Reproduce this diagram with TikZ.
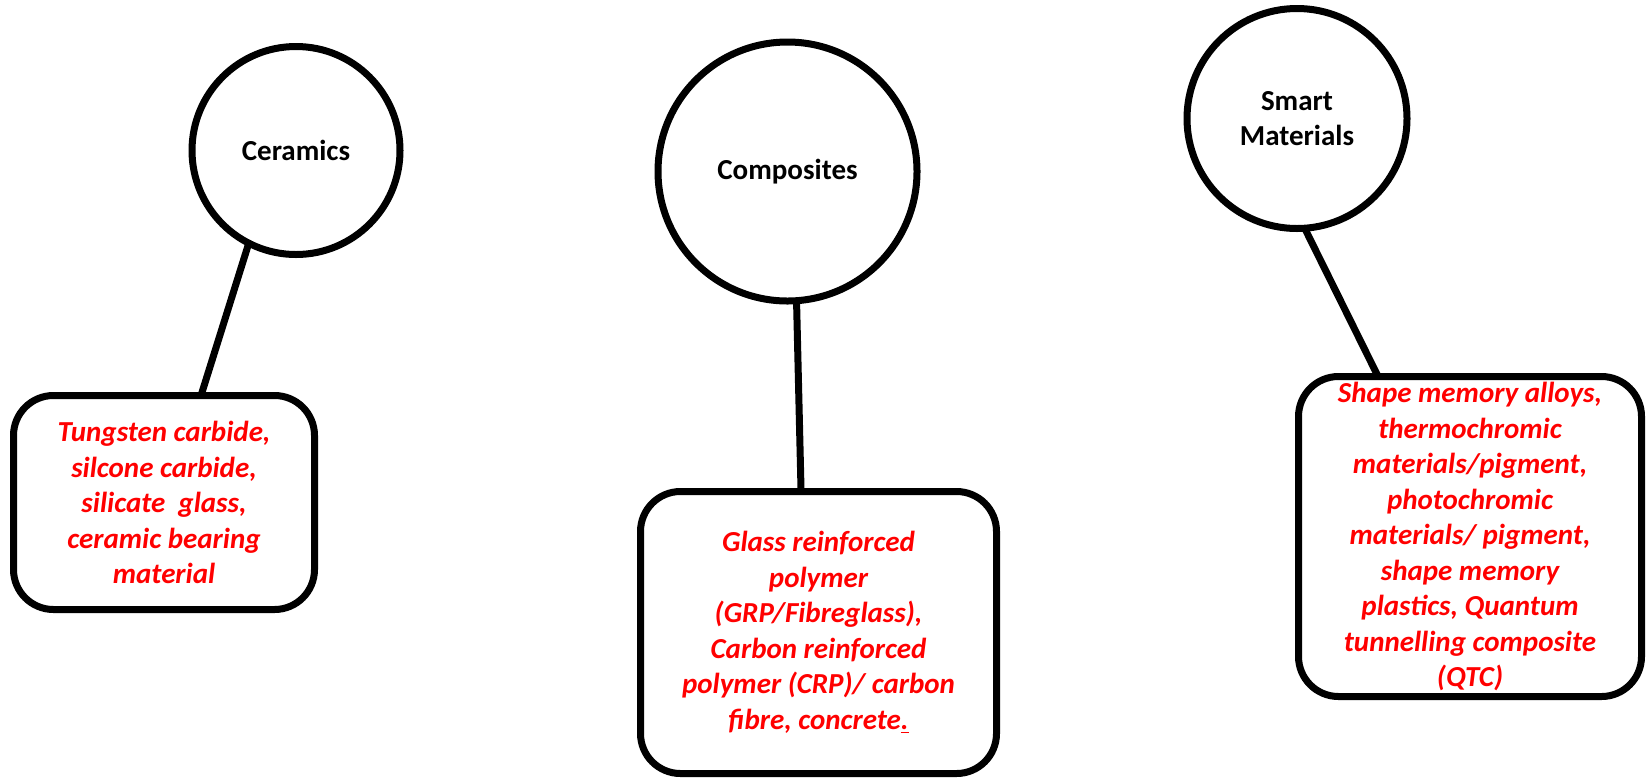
\documentclass[tikz,border=0pt]{standalone}
\usepackage{fontspec}
\setmainfont{Carlito}
\usetikzlibrary{calc}
\begin{document}
\begin{tikzpicture}[x=0.5pt,y=-0.5pt,
  ring/.style={circle,draw=black,line width=3.5pt,fill=white,inner sep=0pt,outer sep=0pt,
    align=center,font=\fontsize{14.5}{17.75}\selectfont\bfseries},
  itembox/.style={rectangle,rounded corners=20pt,draw=black,line width=3.5pt,fill=white,
    inner sep=0pt,outer sep=0pt,align=center,text=red,
    font=\fontsize{14.5}{17.75}\selectfont\bfseries\itshape},
  link/.style={draw=black,line width=3.5pt}]
\useasboundingbox (0,0) rectangle (1647,778);
% circles
\node[ring,minimum size=104pt] (ccer) at (296,150.5) {Ceramics};
\node[ring,minimum size=129.5pt] (ccom) at (787.5,171.5) {Composites};
\node[ring,minimum size=110pt] (csma) at (1297,118.5) {Smart\\Materials};
% boxes
\node[itembox,minimum width=150.5pt,minimum height=107pt] (bcer) at (164,502.5)
  {Tungsten carbide,\\silcone carbide,\\silicate\ \ glass,\\ceramic bearing\\material};
\node[itembox,minimum width=178pt,minimum height=141pt] (bcom) at (818.5,632.5)
  {Glass reinforced\\polymer\\(GRP/Fibreglass),\\Carbon reinforced\\polymer (CRP)/ carbon\\fibre, concrete\underline{.}};
\node[itembox,minimum width=171.5pt,minimum height=160pt] (bsma) at (1470,536.5)
  {Shape memory alloys,\\thermochromic\\materials/pigment,\\photochromic\\materials/ pigment,\\shape memory\\plastics, Quantum\\tunnelling composite\\(QTC)};
% connectors
\begin{scope}[on background layer/.try]
\end{scope}
\draw[link] (ccer.243.5) -- ($(bcer.north west)!0.623!(bcer.north east)$);
\draw[link] (ccom.274.5) -- ($(bcom.north west)!0.451!(bcom.north east)$);
\draw[link] (csma.274) -- ($(bsma.north west)!0.232!(bsma.north east)$);
\end{tikzpicture}
\end{document}
